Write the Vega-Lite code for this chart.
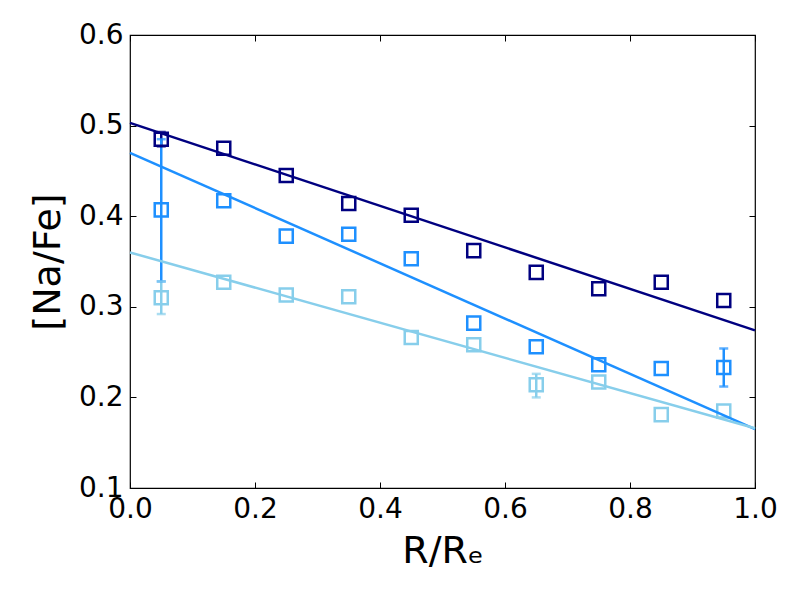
{
  "$schema": "https://vega.github.io/schema/vega-lite/v6.json",
  "width": 625,
  "height": 453,
  "autosize": {"type": "none"},
  "padding": {"left": 130, "top": 35, "right": 45, "bottom": 112},
  "background": "white",
  "config": {
    "font": "DejaVu Sans",
    "view": {"stroke": "black", "strokeWidth": 1.2},
    "axis": {
      "grid": false,
      "domain": false,
      "tickColor": "black",
      "tickSize": -6,
      "tickWidth": 1,
      "labelFlush": false,
      "labelColor": "black",
      "labelFont": "DejaVu Sans",
      "labelFontSize": 28,
      "titleFont": "DejaVu Sans",
      "titleFontWeight": "normal",
      "titleColor": "black",
      "titleFontSize": 38
    }
  },
  "datasets": {
    "pts": [
      {"r": 0.05, "nafe": 0.485, "grp": "set1"},
      {"r": 0.15, "nafe": 0.475, "grp": "set1"},
      {"r": 0.25, "nafe": 0.445, "grp": "set1"},
      {"r": 0.35, "nafe": 0.414, "grp": "set1"},
      {"r": 0.45, "nafe": 0.401, "grp": "set1"},
      {"r": 0.55, "nafe": 0.362, "grp": "set1"},
      {"r": 0.65, "nafe": 0.338, "grp": "set1"},
      {"r": 0.75, "nafe": 0.320, "grp": "set1"},
      {"r": 0.85, "nafe": 0.327, "grp": "set1"},
      {"r": 0.95, "nafe": 0.307, "grp": "set1"},
      {"r": 0.05, "nafe": 0.407, "grp": "set2"},
      {"r": 0.15, "nafe": 0.417, "grp": "set2"},
      {"r": 0.25, "nafe": 0.378, "grp": "set2"},
      {"r": 0.35, "nafe": 0.380, "grp": "set2"},
      {"r": 0.45, "nafe": 0.353, "grp": "set2"},
      {"r": 0.55, "nafe": 0.282, "grp": "set2"},
      {"r": 0.65, "nafe": 0.256, "grp": "set2"},
      {"r": 0.75, "nafe": 0.236, "grp": "set2"},
      {"r": 0.85, "nafe": 0.232, "grp": "set2"},
      {"r": 0.95, "nafe": 0.233, "grp": "set2"},
      {"r": 0.05, "nafe": 0.310, "grp": "set3"},
      {"r": 0.15, "nafe": 0.327, "grp": "set3"},
      {"r": 0.25, "nafe": 0.313, "grp": "set3"},
      {"r": 0.35, "nafe": 0.311, "grp": "set3"},
      {"r": 0.45, "nafe": 0.266, "grp": "set3"},
      {"r": 0.55, "nafe": 0.258, "grp": "set3"},
      {"r": 0.65, "nafe": 0.214, "grp": "set3"},
      {"r": 0.75, "nafe": 0.217, "grp": "set3"},
      {"r": 0.85, "nafe": 0.181, "grp": "set3"},
      {"r": 0.95, "nafe": 0.185, "grp": "set3"}
    ],
    "err": [
      {"r": 0.05, "lo": 0.477, "hi": 0.493, "grp": "set1"},
      {"r": 0.05, "lo": 0.328, "hi": 0.485, "grp": "set2"},
      {"r": 0.95, "lo": 0.212, "hi": 0.254, "grp": "set2"},
      {"r": 0.05, "lo": 0.292, "hi": 0.328, "grp": "set3"},
      {"r": 0.65, "lo": 0.200, "hi": 0.226, "grp": "set3"}
    ],
    "fit": [
      {"r": 0.0, "nafe": 0.503, "grp": "set1"},
      {"r": 1.0, "nafe": 0.274, "grp": "set1"},
      {"r": 0.0, "nafe": 0.470, "grp": "set2"},
      {"r": 1.0, "nafe": 0.165, "grp": "set2"},
      {"r": 0.0, "nafe": 0.360, "grp": "set3"},
      {"r": 1.0, "nafe": 0.166, "grp": "set3"}
    ]
  },
  "resolve": {"axis": {"x": "independent", "y": "independent"}},
  "layer": [
    {
      "data": {"name": "err"},
      "mark": {"type": "rule", "strokeWidth": 2.5},
      "encoding": {
        "x": {"field": "r", "type": "quantitative", "scale": {"domain": [0, 1], "nice": false}, "axis": null},
        "y": {"field": "lo", "type": "quantitative", "scale": {"domain": [0.1, 0.6], "nice": false}, "axis": null},
        "y2": {"field": "hi"},
        "color": {"field": "grp", "type": "nominal", "legend": null,
          "scale": {"domain": ["set1", "set2", "set3"], "range": ["#000080", "#1E90FF", "#87CEEB"]}}
      }
    },
    {
      "data": {"name": "err"},
      "mark": {"type": "tick", "orient": "horizontal", "size": 9, "thickness": 2.5},
      "encoding": {
        "x": {"field": "r", "type": "quantitative", "axis": null},
        "y": {"field": "lo", "type": "quantitative", "axis": null},
        "color": {"field": "grp", "type": "nominal", "legend": null}
      }
    },
    {
      "data": {"name": "err"},
      "mark": {"type": "tick", "orient": "horizontal", "size": 9, "thickness": 2.5},
      "encoding": {
        "x": {"field": "r", "type": "quantitative", "axis": null},
        "y": {"field": "hi", "type": "quantitative", "axis": null},
        "color": {"field": "grp", "type": "nominal", "legend": null}
      }
    },
    {
      "data": {"name": "pts"},
      "mark": {"type": "point", "shape": "square", "filled": false, "size": 170, "strokeWidth": 2.5, "opacity": 1},
      "encoding": {
        "x": {"field": "r", "type": "quantitative",
          "axis": {"orient": "top", "labels": false, "title": null, "values": [0, 0.2, 0.4, 0.6, 0.8, 1.0]}},
        "y": {"field": "nafe", "type": "quantitative",
          "axis": {"orient": "right", "labels": false, "title": null, "values": [0.1, 0.2, 0.3, 0.4, 0.5, 0.6]}},
        "color": {"field": "grp", "type": "nominal", "legend": null}
      }
    },
    {
      "data": {"name": "fit"},
      "mark": {"type": "line", "strokeWidth": 2.5},
      "encoding": {
        "x": {"field": "r", "type": "quantitative",
          "axis": {"orient": "bottom", "title": "R/Rₑ", "format": ".1f", "values": [0, 0.2, 0.4, 0.6, 0.8, 1.0], "labelPadding": 13, "titlePadding": 9}},
        "y": {"field": "nafe", "type": "quantitative",
          "axis": {"orient": "left", "title": "[Na/Fe]", "format": ".1f", "values": [0.1, 0.2, 0.3, 0.4, 0.5, 0.6], "labelPadding": 13, "titlePadding": 11}},
        "color": {"field": "grp", "type": "nominal", "legend": null},
        "detail": {"field": "grp"}
      }
    }
  ]
}
